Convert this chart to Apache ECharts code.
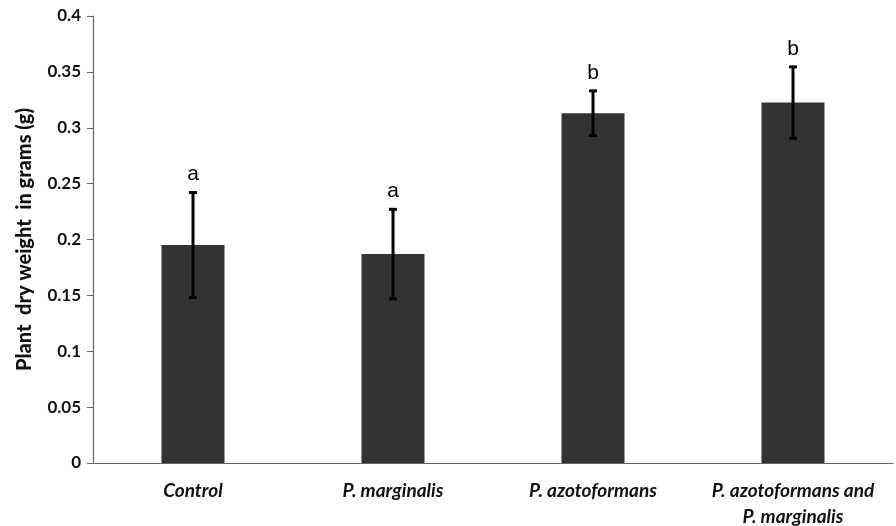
<!DOCTYPE html>
<html><head><meta charset="utf-8">
<script src="https://cdn.jsdelivr.net/npm/echarts@6/dist/echarts.min.js"></script>
<style>html,body{margin:0;padding:0;background:#fff}#c{width:896px;height:526px}</style>
</head><body><div id="c"></div>
<script>
const categories = ['Control', 'P. marginalis', 'P. azotoformans', 'P. azotoformans and\nP. marginalis'];
const means = [0.195, 0.187, 0.313, 0.3225];
const errors = [0.047, 0.040, 0.020, 0.032];
const letters = ['a', 'a', 'b', 'b'];
const yTicks = [0, 0.05, 0.1, 0.15, 0.2, 0.25, 0.3, 0.35, 0.4];

const chart = echarts.init(document.getElementById('c'));
const errData = means.map((m, i) => [i, m - errors[i], m + errors[i], letters[i]]);
chart.setOption({
  animation: false,
  grid: { left: 93, right: 3, top: 16, bottom: 63, containLabel: false, outerBoundsMode: 'none' },
  xAxis: {
    type: 'category', data: categories,
    axisLine: { lineStyle: { color: '#666', width: 1.2 } },
    axisTick: { show: false },
    axisLabel: { fontFamily: 'Lato', fontWeight: 'bold', fontStyle: 'italic', fontSize: 19, color: '#111', margin: 15, lineHeight: 26, interval: 0 }
  },
  yAxis: {
    type: 'value', min: 0, max: 0.4, interval: 0.05,
    name: 'Plant  dry weight  in grams (g)', nameLocation: 'middle', nameGap: 58,
    nameTextStyle: { fontFamily: 'Lato', fontWeight: 900, fontSize: 20, color: '#111' },
    splitLine: { show: false },
    axisLine: { show: true, lineStyle: { color: '#666', width: 1.2 } },
    axisTick: { show: true, length: 6, lineStyle: { color: '#666' } },
    axisLabel: { fontFamily: 'Lato', fontWeight: 'bold', fontSize: 17, color: '#111', margin: 12,
      formatter: v => String(parseFloat(v.toFixed(2))) }
  },
  series: [
    { type: 'bar', data: means, barWidth: '31.5%', itemStyle: { color: '#333333' } },
    { type: 'custom', data: errData, z: 10,
      renderItem: function (params, api) {
        const x = api.value(0);
        const lo = api.coord([x, api.value(1)]);
        const hi = api.coord([x, api.value(2)]);
        const cap = 4;
        const st = { stroke: '#000', lineWidth: 3 };
        return { type: 'group', children: [
          { type: 'line', shape: { x1: lo[0], y1: lo[1], x2: hi[0], y2: hi[1] }, style: st },
          { type: 'line', shape: { x1: lo[0] - cap, y1: lo[1], x2: lo[0] + cap, y2: lo[1] }, style: st },
          { type: 'line', shape: { x1: hi[0] - cap, y1: hi[1], x2: hi[0] + cap, y2: hi[1] }, style: st },
          { type: 'text', x: hi[0], y: hi[1] - 18, style: { text: api.value(3), fill: '#000', font: '21px "Liberation Sans", Arial, sans-serif', align: 'center', verticalAlign: 'middle' } }
        ]};
      }
    }
  ]
});
</script></body></html>
